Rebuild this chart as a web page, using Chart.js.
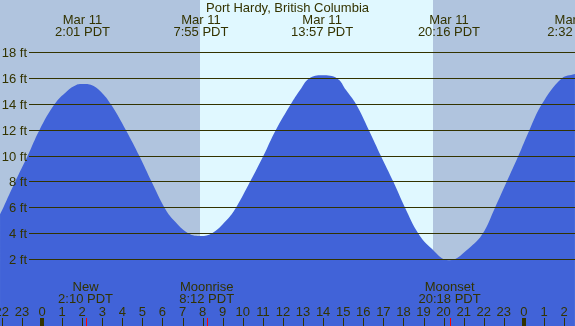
<!DOCTYPE html>
<html>
<head>
<meta charset="utf-8">
<script src="https://cdn.jsdelivr.net/npm/chart.js@4/dist/chart.umd.min.js"></script>
<style>
html,body{margin:0;padding:0;overflow:hidden;background:#b0c4de}
canvas{display:block}
</style>
</head>
<body>
<canvas id="c" width="575" height="326"></canvas>
<script>
// ---- data ----
const chartTitle = 'Port Hardy, British Columbia';

// tide curve: hour of day (relative to Mar 11 00:00) and height in feet
const tideHours   = [-2.09, -1.93, -1.34, -0.72, -0.13, 0.62, 1.23, 1.73, 2.02, 2.43, 2.92, 3.43, 4.18, 4.85, 5.46,
                     6.10, 6.55, 7.30, 7.92, 8.45, 9.20, 9.66, 10.36, 11.02, 11.64, 12.39, 12.85, 13.30, 13.95,
                     14.70, 15.14, 15.64, 16.28, 16.88, 17.50, 18.08, 18.74, 19.30, 20.27, 21.35, 21.95,
                     22.56, 23.14, 23.72, 24.27, 24.89, 25.88, 26.54];
const tideHeights = [5.5, 6, 8, 10, 12, 14, 15.0, 15.51, 15.57, 15.51, 15.0, 14, 12, 10, 8,
                     6, 5.05, 4, 3.81, 4, 5.05, 6, 8, 10, 12, 14, 15.1, 16, 16.24,
                     16, 15.1, 14, 12, 10, 8, 6, 4, 2.99, 1.93, 2.99, 4,
                     6, 8, 10, 12, 14, 16, 16.35];

// high / low tide labels
const extremeHours = [2.017, 7.917, 13.95, 20.267, 26.533];
const extremeDates = ['Mar 11', 'Mar 11', 'Mar 11', 'Mar 11', 'Mar 12'];
const extremeTimes = ['2:01 PDT', '7:55 PDT', '13:57 PDT', '20:16 PDT', '2:32 PDT'];

// moon events
const moonHours = [2.167, 8.2, 20.3];
const moonNames = ['New', 'Moonrise', 'Moonset'];
const moonTimes = ['2:10 PDT', '8:12 PDT', '20:18 PDT'];

// daylight
const sunriseHour = 7.87;
const sunsetHour = 19.47;

// axis ticks
const yTickValues = [2, 4, 6, 8, 10, 12, 14, 16, 18];
const hourTickValues = [-2, -1, 0, 1, 2, 3, 4, 5, 6, 7, 8, 9, 10, 11, 12, 13, 14, 15, 16, 17, 18, 19, 20, 21, 22, 23, 24, 25, 26];
const hourTickLabels = ['22', '23', '0', '1', '2', '3', '4', '5', '6', '7', '8', '9', '10', '11', '12', '13', '14', '15', '16', '17', '18', '19', '20', '21', '22', '23', '0', '1', '2'];

// ---- styling ----
const FONT = '13px "Liberation Sans", Arial, sans-serif';
const TEXT = '#333300';
const NIGHT = '#b0c4de';
const DAY = '#e0f8ff';
const WATER = '#4163d8';

const points = tideHours.map((h, i) => ({x: h, y: tideHeights[i]}));

const decor = {
  id: 'decor',
  beforeDatasetsDraw(chart) {
    const {ctx, chartArea: a, scales: {x}} = chart;
    ctx.save();
    ctx.fillStyle = NIGHT;
    ctx.fillRect(a.left, a.top, a.right - a.left, a.bottom - a.top);
    const x0 = Math.round(x.getPixelForValue(sunriseHour));
    const x1 = Math.round(x.getPixelForValue(sunsetHour));
    ctx.fillStyle = DAY;
    ctx.fillRect(x0, a.top, x1 - x0, a.bottom - a.top);
    ctx.restore();
  },
  afterDatasetsDraw(chart) {
    const {ctx, chartArea: a, scales: {x, y}} = chart;
    ctx.save();
    // horizontal grid lines and labels
    ctx.strokeStyle = TEXT;
    ctx.lineWidth = 1;
    ctx.font = FONT;
    ctx.fillStyle = TEXT;
    yTickValues.forEach(v => {
      const py = Math.floor(y.getPixelForValue(v)) + 0.5;
      ctx.beginPath();
      ctx.moveTo(29, py);
      ctx.lineTo(a.right, py);
      ctx.stroke();
      ctx.textAlign = 'right';
      ctx.textBaseline = 'alphabetic';
      ctx.fillText(v + ' ft', 27, py + 4);
    });
    // title
    ctx.textAlign = 'center';
    ctx.fillText(chartTitle, (a.left + a.right) / 2, 12);
    // tide extremes
    extremeHours.forEach((h, i) => {
      const px = x.getPixelForValue(h);
      ctx.fillText(extremeDates[i], px, 24);
      ctx.fillText(extremeTimes[i], px, 36);
    });
    // moon events
    moonHours.forEach((h, i) => {
      const px = x.getPixelForValue(h);
      ctx.fillText(moonNames[i], px, 291);
      ctx.fillText(moonTimes[i], px, 303);
    });
    // hour labels and ticks
    hourTickValues.forEach((h, i) => {
      const px = x.getPixelForValue(h);
      ctx.fillStyle = TEXT;
      ctx.fillText(hourTickLabels[i], px, 316);
      if (hourTickLabels[i] === '0') {
        ctx.fillRect(Math.round(px) - 2, 318, 4, a.bottom - 318);
      } else {
        ctx.fillRect(Math.round(px), 318, 1, a.bottom - 318);
      }
    });
    ctx.fillStyle = '#ff0000';
    moonHours.forEach(h => {
      const px = Math.round(x.getPixelForValue(h));
      ctx.fillRect(px, 318, 1, a.bottom - 318);
    });
    ctx.restore();
  }
};

new Chart(document.getElementById('c'), {
  type: 'line',
  data: {
    datasets: [{
      data: points,
      fill: 'start',
      backgroundColor: WATER,
      borderColor: WATER,
      borderWidth: 0,
      pointRadius: 0,
      tension: 0.4
    }]
  },
  options: {
    responsive: false,
    animation: false,
    devicePixelRatio: 1,
    layout: {padding: 0},
    plugins: {legend: {display: false}, tooltip: {enabled: false}, title: {display: false}},
    scales: {
      x: {type: 'linear', min: -2.092, max: 26.544, display: false},
      y: {type: 'linear', min: -3.15, max: 22.07, display: false}
    }
  },
  plugins: [decor]
});
</script>
</body>
</html>
